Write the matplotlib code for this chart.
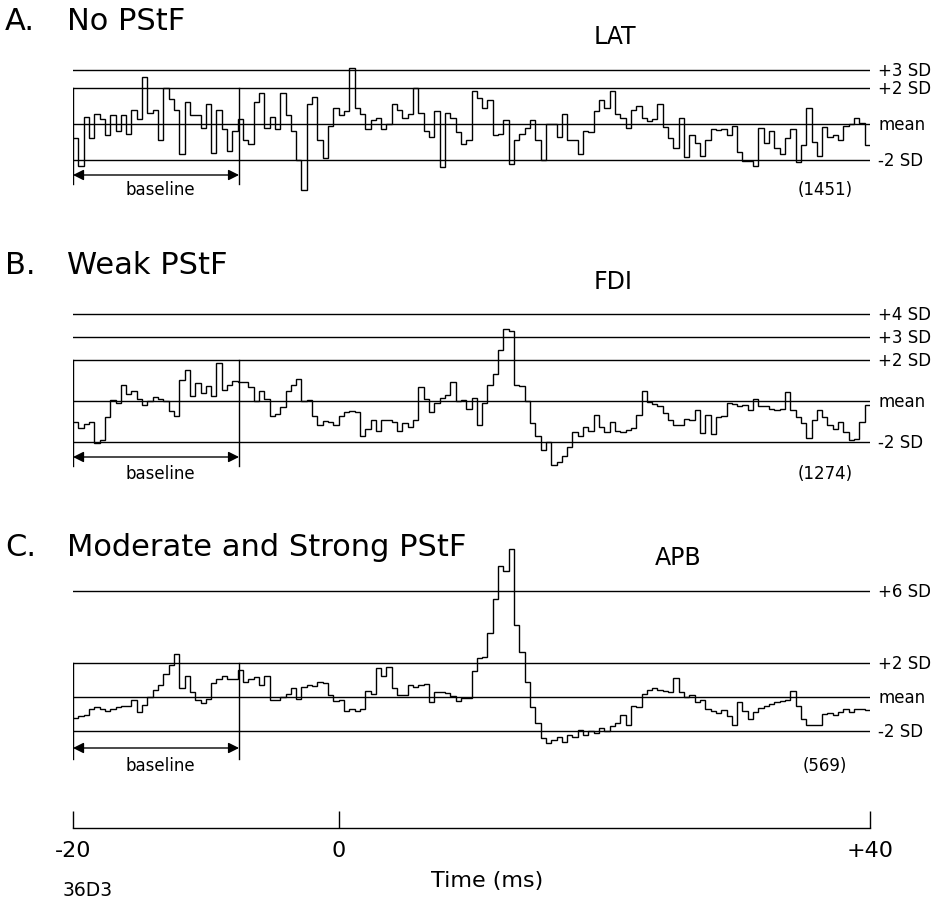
"""Post-spike facilitation (PStF) averages for three muscles."""

import matplotlib
matplotlib.use("Agg")

import matplotlib.pyplot as plt
import numpy as np

# ── data (SD units from the baseline mean, 0.4 ms bins from -20 to +40 ms) ──

BIN_MS = 0.4
T_START, T_END = -20, 40
BASELINE_END = -7.5

lat_sd = [
    -0.8, -2.3, 0.4, -0.8, 0.55, 0.3, -0.6, 0.5, -0.4, 0.5,
    -0.55, 0.8, 0.3, 2.6, 0.6, 0.8, -0.9, 2.0, 1.4, 0.8,
    -1.65, 1.2, 0.5, 0.5, -0.2, 1.1, -1.6, 0.8, -0.3, -1.5,
    -0.4, 0.3, -0.9, -1.1, 1.2, 1.7, -0.2, 0.4, -0.3, 1.7,
    0.5, -0.4, -2.0, -3.65, 1.1, 1.5, -0.9, -1.9, -0.1, 0.9,
    0.5, 0.7, 3.1, 0.9, 0.55, -0.3, 0.2, 0.35, -0.3, 0.0,
    1.1, 0.8, 0.35, 0.55, 2.0, 0.6, -0.4, -0.7, 0.7, -2.4,
    0.6, 0.35, -0.45, -1.1, -0.9, 1.8, 1.45, 0.9, 1.3, -0.6,
    -0.55, 0.2, -2.2, -0.9, -0.55, -0.2, 0.2, -0.9, -2.0, 0.0,
    0.0, -0.7, 0.55, -0.9, -0.9, -1.65, -0.4, -0.45, 0.7, 1.3,
    0.9, 1.8, 0.55, 0.35, -0.2, 0.8, 1.0, 0.35, 0.15, 0.25,
    1.1, -0.15, -0.8, -1.35, 0.35, -1.8, -0.6, -1.05, -1.75, -0.9,
    -0.25, -0.35, -0.25, -0.6, -0.1, -1.55, -2.05, -2.05, -2.3, -0.2,
    -1.05, -0.4, -1.35, -1.65, -0.8, -0.25, -2.1, -1.15, 0.9, -1.0,
    -1.75, -0.15, -0.7, -0.6, -0.9, -0.1, 0.0, 0.35, 0.05, -1.15,
]

fdi_sd = [
    -1.05, -1.3, -1.15, -1.05, -2.05, -1.9, -0.8, 0.05, -0.1, 0.8,
    0.35, 0.5, 0.1, -0.2, 0.0, 0.2, 0.1, 0.0, -0.5, -0.75,
    1.05, 1.5, 0.25, 0.9, 0.4, 0.75, 0.25, 1.85, 0.55, 0.8,
    1.0, 0.95, 0.95, 0.7, 0.0, 0.5, 0.1, -0.75, -0.65, -0.3,
    0.5, 0.8, 1.1, 0.0, 0.05, -0.75, -1.2, -1.0, -1.05, -1.2,
    -0.75, -0.55, -0.5, -0.55, -1.7, -1.35, -0.95, -1.45, -0.95, -0.95,
    -1.05, -1.45, -1.1, -1.25, -0.95, 0.7, 0.1, -0.55, -0.1, 0.15,
    0.3, 0.95, 0.0, 0.05, -0.4, 0.15, -1.2, -0.1, 0.8, 1.3,
    2.5, 3.55, 3.45, 0.8, 0.75, 0.0, -1.1, -1.7, -2.4, -2.0,
    -3.15, -3.0, -2.7, -2.25, -1.5, -1.7, -1.25, -1.45, -0.7, -1.25,
    -1.5, -1.05, -1.45, -1.5, -1.4, -1.3, -0.7, 0.5, -0.05, -0.15,
    -0.25, -0.6, -0.95, -1.2, -1.2, -0.9, -0.95, -0.45, -1.55, -0.7,
    -1.6, -0.8, -0.75, -0.1, -0.15, -0.25, -0.2, -0.45, 0.1, -0.25,
    -0.25, -0.4, -0.45, -0.4, 0.45, -0.45, -0.8, -1.1, -1.8, -0.95,
    -0.45, -0.8, -1.2, -1.35, -1.05, -1.5, -1.9, -1.85, -1.05, -0.2,
]

apb_sd = [
    -1.2, -1.1, -1.05, -0.7, -0.6, -0.7, -0.8, -0.7, -0.6, -0.55,
    -0.5, -0.15, -0.85, -0.45, 0.0, 0.4, 0.7, 1.35, 1.85, 2.5,
    0.5, 1.25, 0.3, -0.15, -0.35, -0.1, 0.8, 1.05, 1.25, 1.05,
    1.05, 1.55, 0.85, 1.05, 1.15, 0.7, 1.25, -0.2, -0.2, 0.0,
    0.2, 0.5, -0.1, 0.6, 0.7, 0.65, 0.85, 0.8, 0.1, -0.25,
    -0.15, -0.8, -0.7, -0.8, -0.7, 0.35, 0.15, 1.7, 1.2, 1.75,
    0.55, 0.1, 0.1, 0.7, 0.6, 0.7, 0.75, -0.3, 0.3, 0.3,
    0.25, 0.05, -0.25, -0.05, -0.05, 1.5, 2.25, 2.35, 3.75, 5.7,
    7.6, 7.3, 8.6, 4.2, 2.6, 0.85, -0.6, -1.5, -2.4, -2.7,
    -2.5, -2.3, -2.6, -2.2, -2.3, -1.9, -2.2, -2.0, -2.1, -1.8,
    -2.0, -1.7, -1.5, -1.05, -1.6, -0.5, -0.6, 0.2, 0.4, 0.55,
    0.4, 0.35, 0.3, 1.1, 0.3, 0.0, 0.1, -0.3, -0.2, -0.7,
    -0.8, -0.95, -0.75, -1.1, -1.6, -0.3, -0.8, -1.3, -0.85, -0.65,
    -0.55, -0.4, -0.3, -0.25, -0.2, 0.35, -0.5, -1.3, -1.6, -1.65,
    -1.6, -1.0, -0.95, -1.05, -0.85, -0.7, -0.85, -0.7, -0.7, -0.75,
]

lat_levels = [3.0, 2.0, 0.0, -2.0]
lat_level_labels = ["+3 SD", "+2 SD", "mean", "-2 SD"]
fdi_levels = [4.25, 3.12, 2.0, 0.0, -2.0]
fdi_level_labels = ["+4 SD", "+3 SD", "+2 SD", "mean", "-2 SD"]
apb_levels = [6.15, 2.0, 0.0, -2.0]
apb_level_labels = ["+6 SD", "+2 SD", "mean", "-2 SD"]

panel_letters = ["A.", "B.", "C."]
panel_titles = ["No PStF", "Weak PStF", "Moderate and Strong PStF"]
muscles = ["LAT", "FDI", "APB"]
trigger_counts = ["(1451)", "(1274)", "(569)"]

time_ticks = [-20, 0, 40]
time_tick_labels = ["-20", "0", "+40"]

# ── layout (pixels of a 938 x 903 picture) ─────────────────────────────────

W, H = 938, 903
X_LEFT, X_RIGHT = 73, 870
PX_PER_MS = (X_RIGHT - X_LEFT) / (T_END - T_START)

# mean line, 1 SD, band top/bottom, title y, muscle label xy, arrow y, stem end, note y
LAYOUT = [
    dict(mean=125, sd=18.1, top=45, bottom=205, title_y=22, muscle=(615, 37),
         arrow=176, stem=185, note_y=190),
    dict(mean=402, sd=20.4, top=290, bottom=490, title_y=266, muscle=(613, 282),
         arrow=458, stem=467, note_y=474),
    dict(mean=698, sd=17.2, top=525, bottom=785, title_y=547, muscle=(678, 558),
         arrow=749, stem=760, note_y=766),
]

LW = 1.0


def px_to_ms(px):
    return T_START + (px - X_LEFT) / PX_PER_MS


fig = plt.figure(figsize=(W / 100, H / 100), dpi=100)

series = [lat_sd, fdi_sd, apb_sd]
levels = [lat_levels, fdi_levels, apb_levels]
level_labels = [lat_level_labels, fdi_level_labels, apb_level_labels]
edges = np.linspace(T_START, T_END, len(lat_sd) + 1)

for i, lay in enumerate(LAYOUT):
    ax = fig.add_axes([X_LEFT / W, 1 - lay["bottom"] / H,
                       (X_RIGHT - X_LEFT) / W, (lay["bottom"] - lay["top"]) / H])
    to_sd = lambda py, lay=lay: (lay["mean"] - py) / lay["sd"]
    ax.set_xlim(T_START, T_END)
    ax.set_ylim(to_sd(lay["bottom"]), to_sd(lay["top"]))
    ax.axis("off")

    # histogram
    ax.stairs(series[i], edges, baseline=None, color="black", lw=LW)

    # SD reference lines + labels
    for lev, lab in zip(levels[i], level_labels[i]):
        ax.plot([T_START, T_END], [lev, lev], color="black", lw=LW)
        ax.text(px_to_ms(878), lev, lab, ha="left", va="center", fontsize=12,
                clip_on=False)

    # baseline window
    y_arrow = to_sd(lay["arrow"])
    y_stem = to_sd(lay["stem"])
    for xv in (T_START, BASELINE_END):
        ax.plot([xv, xv], [2.0, y_stem], color="black", lw=LW)
    ax.annotate("", xy=(T_START, y_arrow), xytext=(BASELINE_END, y_arrow),
                arrowprops=dict(arrowstyle="<|-|>", color="black", lw=LW,
                                mutation_scale=16, shrinkA=0, shrinkB=0))
    ax.text(px_to_ms(160), to_sd(lay["note_y"]), "baseline", ha="center",
            va="center", fontsize=12)
    ax.text(px_to_ms(825), to_sd(lay["note_y"]), trigger_counts[i], ha="center",
            va="center", fontsize=12)

    # titles
    fig.text(5 / W, 1 - lay["title_y"] / H, panel_letters[i], fontsize=22,
             ha="left", va="center")
    fig.text(67 / W, 1 - lay["title_y"] / H, panel_titles[i], fontsize=22,
             ha="left", va="center")
    mx, my = lay["muscle"]
    fig.text(mx / W, 1 - my / H, muscles[i], fontsize=17, ha="center", va="center")

# time axis
ax_t = fig.add_axes([X_LEFT / W, 1 - 829 / H, (X_RIGHT - X_LEFT) / W, 17 / H])
ax_t.set_xlim(T_START, T_END)
ax_t.set_ylim(0, 1)
for side in ("top", "left", "right"):
    ax_t.spines[side].set_visible(False)
ax_t.spines["bottom"].set_linewidth(LW)
ax_t.set_yticks([])
ax_t.set_xticks(time_ticks)
ax_t.set_xticklabels(time_tick_labels)
ax_t.tick_params(axis="x", direction="in", length=17 * 0.72, width=LW,
                 labelsize=16, pad=9)
ax_t.set_xlabel("Time (ms)", fontsize=16)
ax_t.xaxis.set_label_coords((487 - X_LEFT) / (X_RIGHT - X_LEFT), -2.45)

fig.text(88 / W, 1 - 891 / H, "36D3", fontsize=13.5, ha="center", va="center")

fig.savefig("out.png", dpi=100)
